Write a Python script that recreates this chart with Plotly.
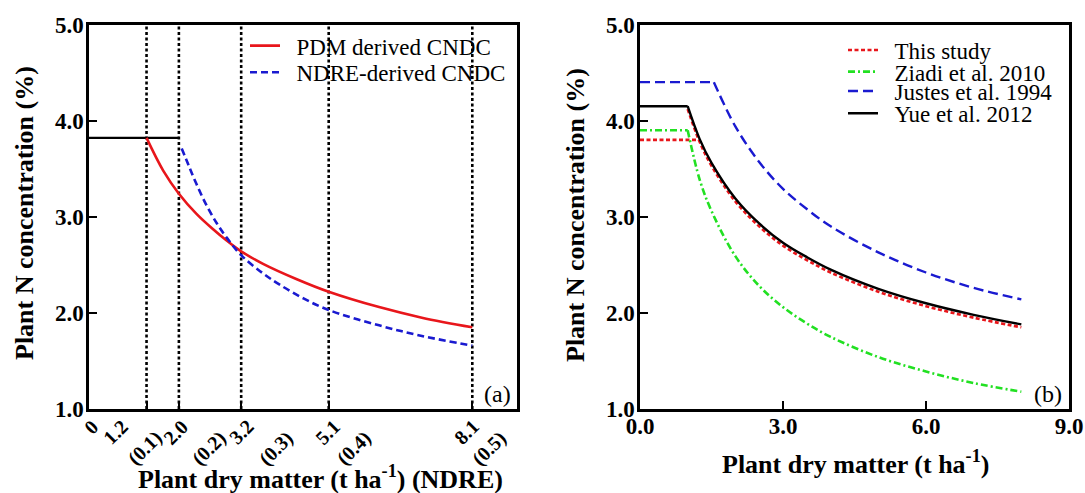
import plotly.graph_objects as go

# ---------------------------------------------------------------- data
# Panel (a): critical N dilution curves derived from PDM and from NDRE
GUIDE_PDM = [1.21, 1.89, 3.20, 5.04, 8.06]          # dotted guides (t ha-1)
PDM_TICKS = ["1.2", "2.0", "3.2", "5.1", "8.1"]
NDRE_TICKS = ["(0.1)", "(0.2)", "(0.3)", "(0.4)", "(0.5)"]

PLATEAU_A_X = [0.0, 1.89]
PLATEAU_A_Y = [3.82, 3.82]

PDM_X = [1.21, 1.56, 1.89, 2.26, 2.61, 2.90, 3.20, 3.66, 4.37, 5.04, 6.10, 7.00, 8.06]
PDM_Y = [3.82, 3.48, 3.24, 3.03, 2.87, 2.75, 2.64, 2.51, 2.35, 2.22, 2.06, 1.95, 1.85]

NDRE_X = [1.95, 2.09, 2.26, 2.47, 2.69, 2.90, 3.20, 3.66, 4.02, 4.51, 5.04, 6.10, 7.00, 8.06]
NDRE_Y = [3.71, 3.54, 3.34, 3.12, 2.93, 2.78, 2.60, 2.41, 2.29, 2.15, 2.03, 1.87, 1.76, 1.66]

# Panel (b): comparison with published critical N dilution curves
CURVE_X = [1.0, 1.25, 1.5, 2.0, 2.5, 3.0, 3.5, 4.0, 5.0, 6.0, 7.0, 8.0]

STUDY_PLATEAU_X = [0.0, 1.26]
STUDY_PLATEAU_Y = [3.80, 3.80]
STUDY_Y = [4.12, 3.78, 3.53, 3.16, 2.90, 2.70, 2.55, 2.42, 2.22, 2.07, 1.95, 1.85]

ZIADI_PLATEAU_X = [0.0, 1.0]
ZIADI_PLATEAU_Y = [3.90, 3.90]
ZIADI_Y = [3.90, 3.39, 3.06, 2.59, 2.28, 2.06, 1.89, 1.75, 1.54, 1.39, 1.27, 1.18]

JUSTES_PLATEAU_X = [0.0, 1.55]
JUSTES_PLATEAU_Y = [4.40, 4.40]
JUSTES_X = [1.55, 2.0, 2.5, 3.0, 3.5, 4.0, 5.0, 6.0, 7.0, 8.0]
JUSTES_Y = [4.40, 3.94, 3.57, 3.29, 3.08, 2.90, 2.63, 2.42, 2.26, 2.14]

YUE_PLATEAU_X = [0.0, 1.0]
YUE_PLATEAU_Y = [4.15, 4.15]
YUE_Y = [4.15, 3.81, 3.56, 3.19, 2.93, 2.73, 2.58, 2.45, 2.25, 2.10, 1.98, 1.88]

Y_TICKS = [1, 2, 3, 4, 5]
B_X_TICKS = [0, 3, 6, 9]

# ---------------------------------------------------------------- style
W, H = 1085, 493
SERIF = "Liberation Serif"
NB = "\u00a0\u00a0"

RED = "#e8161b"
BLUE = "#1a1ad0"
GREEN = "#22e022"
BLACK = "#000000"

# horizontal pixel nudges and centre rows of the slanted labels under panel (a)
PDM_LABEL_NUDGE = [-31, -3, 0, -1, -6]
NDRE_LABEL_NUDGE = [-2, 30, 35, 25, 17]
PDM_LABEL_ROW = 432
NDRE_LABEL_ROW = 448.5


def px_x(p):
    return p / W


def px_y(p):
    return 1 - p / H


fig = go.Figure()

# dotted guides in panel (a)
gx, gy = [], []
for g in GUIDE_PDM:
    gx += [g, g, None]
    gy += [1, 5, None]
fig.add_trace(go.Scatter(x=gx, y=gy, mode="lines", xaxis="x", yaxis="y",
                         line=dict(color=BLACK, width=2.6, dash="3px,2.5px"),
                         showlegend=False, hoverinfo="skip"))

fig.add_trace(go.Scatter(x=PLATEAU_A_X, y=PLATEAU_A_Y, mode="lines", xaxis="x", yaxis="y",
                         line=dict(color=BLACK, width=2.2), showlegend=False))
fig.add_trace(go.Scatter(x=PDM_X, y=PDM_Y, mode="lines", xaxis="x", yaxis="y",
                         line=dict(color=RED, width=2.6, shape="spline"),
                         name=NB + "PDM derived CNDC", legend="legend"))
fig.add_trace(go.Scatter(x=NDRE_X, y=NDRE_Y, mode="lines", xaxis="x", yaxis="y",
                         line=dict(color=BLUE, width=2.6, dash="7px,4px", shape="spline"),
                         name=NB + "NDRE-derived CNDC", legend="legend2"))

# panel (b)
series_b = [
    ("This study", STUDY_PLATEAU_X, STUDY_PLATEAU_Y, CURVE_X, STUDY_Y, RED, "4px,2.5px", 2.6, "legend3"),
    ("Ziadi et al. 2010", ZIADI_PLATEAU_X, ZIADI_PLATEAU_Y, CURVE_X, ZIADI_Y, GREEN, "7px,3px,2px,3px", 2.6, "legend4"),
    ("Justes et al. 1994", JUSTES_PLATEAU_X, JUSTES_PLATEAU_Y, JUSTES_X, JUSTES_Y, BLUE, "10px,5px", 2.4, "legend5"),
    ("Yue et al. 2012", YUE_PLATEAU_X, YUE_PLATEAU_Y, CURVE_X, YUE_Y, BLACK, "solid", 2.4, "legend6"),
]
for name, px0, py0, cx, cy, col, dash, lw, lg in series_b:
    fig.add_trace(go.Scatter(x=px0, y=py0, mode="lines", xaxis="x2", yaxis="y2",
                             line=dict(color=col, width=lw, dash=dash),
                             showlegend=False, legendgroup=name))
    fig.add_trace(go.Scatter(x=cx, y=cy, mode="lines", xaxis="x2", yaxis="y2",
                             line=dict(color=col, width=lw, dash=dash, shape="spline"),
                             name=NB + name, legendgroup=name, legend=lg))

tick_font = dict(family=SERIF, size=23, color=BLACK, weight="bold")
axis_common = dict(showline=True, mirror=True, linecolor=BLACK, linewidth=2.5,
                   showgrid=False, zeroline=False, ticks="inside", ticklen=8,
                   tickwidth=2, tickcolor=BLACK, tickfont=tick_font)

y_dom = [px_y(409), px_y(24.5)]
fig.update_layout(
    width=W, height=H, margin=dict(l=0, r=0, t=0, b=0, autoexpand=False),
    paper_bgcolor="white", plot_bgcolor="white",
    xaxis=dict(axis_common, domain=[px_x(89), px_x(517)], range=[0, 9], anchor="y",
               tickvals=[0] + GUIDE_PDM, showticklabels=False),
    yaxis=dict(axis_common, domain=y_dom, range=[1, 5], anchor="x",
               tickvals=Y_TICKS, ticktext=[f"{v:.1f}" for v in Y_TICKS],
               ticklabelstandoff=-2),
    xaxis2=dict(axis_common, domain=[px_x(640), px_x(1069)], range=[0, 9], anchor="y2",
                tickvals=B_X_TICKS, ticktext=[f"{v:.1f}" for v in B_X_TICKS], tickangle=0,
                ticklabelstandoff=-5),
    yaxis2=dict(axis_common, domain=y_dom, range=[1, 5], anchor="x2",
                tickvals=Y_TICKS, ticktext=[f"{v:.1f}" for v in Y_TICKS],
                ticklabelstandoff=-2),
)

leg_common = dict(bgcolor="rgba(0,0,0,0)", borderwidth=0, xanchor="left", yanchor="middle",
                  font=dict(family=SERIF, size=23, color=BLACK), itemclick=False)
fig.update_layout(
    legend=dict(leg_common, x=px_x(245), y=px_y(45.7)),
    legend2=dict(leg_common, x=px_x(245), y=px_y(72.3)),
    legend3=dict(leg_common, x=px_x(843), y=px_y(50)),
    legend4=dict(leg_common, x=px_x(843), y=px_y(71.7)),
    legend5=dict(leg_common, x=px_x(843), y=px_y(91)),
    legend6=dict(leg_common, x=px_x(843), y=px_y(113.3)),
)

# slanted tick labels of panel (a): PDM value above, NDRE value below
slant_font = dict(family=SERIF, size=20, color=BLACK, weight="bold")
fig.add_annotation(x=0, y=px_y(427), xref="x", yref="paper", text="0", textangle=-45,
                   xshift=2, showarrow=False, xanchor="center", yanchor="middle", font=slant_font)
for g, lab, dx in zip(GUIDE_PDM, PDM_TICKS, PDM_LABEL_NUDGE):
    fig.add_annotation(x=g, y=px_y(PDM_LABEL_ROW), xref="x", yref="paper", text=lab,
                       textangle=-45, xshift=dx, showarrow=False,
                       xanchor="center", yanchor="middle", font=slant_font)
for g, lab, dx in zip(GUIDE_PDM, NDRE_TICKS, NDRE_LABEL_NUDGE):
    fig.add_annotation(x=g, y=px_y(NDRE_LABEL_ROW), xref="x", yref="paper", text=lab,
                       textangle=-45, xshift=dx, showarrow=False,
                       xanchor="center", yanchor="middle", font=slant_font)

title_font = dict(family=SERIF, size=26, color=BLACK, weight="bold")
notes = [
    dict(text="Plant N concentration (%)", x=px_x(24), y=px_y(213), textangle=-90, font=title_font),
    dict(text="Plant N concentration (%)", x=px_x(575), y=px_y(215), textangle=-90, font=title_font),
    dict(text="Plant dry matter (t ha<sup>-1</sup>) (NDRE)", x=px_x(320), y=px_y(477), font=title_font),
    dict(text="Plant dry matter (t ha<sup>-1</sup>)", x=px_x(855), y=px_y(462), font=title_font),
    dict(text="(a)", x=px_x(497), y=px_y(394), font=dict(family=SERIF, size=24, color=BLACK)),
    dict(text="(b)", x=px_x(1048), y=px_y(394), font=dict(family=SERIF, size=24, color=BLACK)),
]
for n in notes:
    fig.add_annotation(xref="paper", yref="paper", showarrow=False,
                       xanchor="center", yanchor="middle", **n)

fig.write_html("out.html")
